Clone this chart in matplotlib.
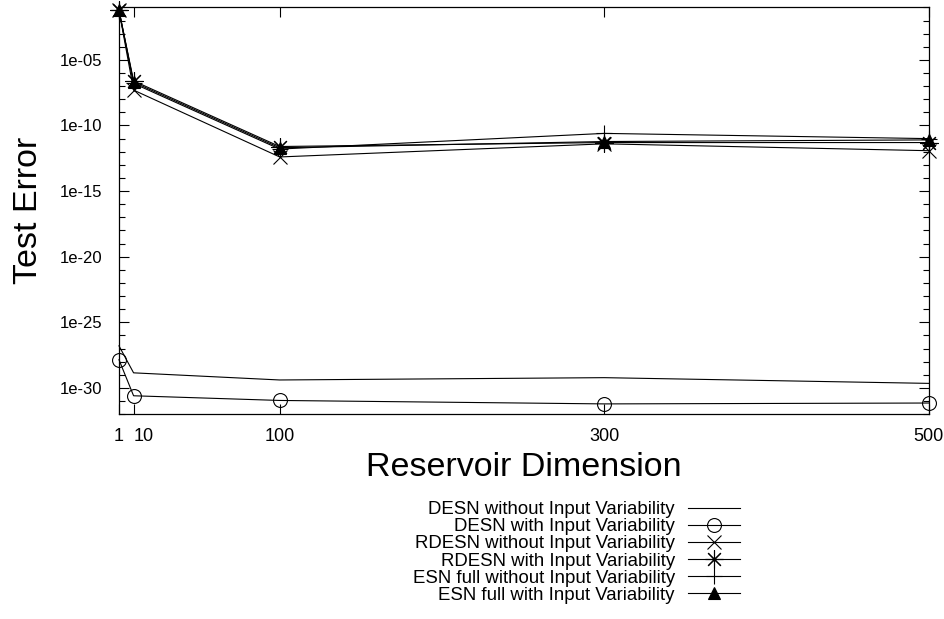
import matplotlib
matplotlib.use("Agg")
import matplotlib.pyplot as plt
from matplotlib.ticker import FixedLocator, LogLocator, FuncFormatter, NullFormatter

plt.rcParams['font.family'] = ['Liberation Sans', 'DejaVu Sans']

# reservoir sizes on the x axis
dims = [1, 10, 100, 300, 500]

# test errors
desn_no_var = [1.6e-27, 1.4e-29, 4.0e-30, 6.0e-30, 2.2e-30]
desn_var = [1.4e-28, 2.5e-31, 1.1e-31, 6.0e-32, 7.0e-32]
rdesn_no_var = [6e-02, 5e-08, 4e-13, 4e-12, 1.2e-12]
rdesn_var = [6e-02, 2.5e-07, 2.5e-12, 5e-12, 5e-12]
esn_no_var = [6e-02, 1.6e-07, 1.6e-12, 2.5e-11, 1e-11]
esn_var = [6e-02, 2e-07, 2e-12, 6e-12, 8e-12]

labels = ["DESN without Input Variability", "DESN with Input Variability",
          "RDESN without Input Variability", "RDESN with Input Variability",
          "ESN full without Input Variability", "ESN full with Input Variability"]

yticks = [1e-30, 1e-25, 1e-20, 1e-15, 1e-10, 1e-05]

fig = plt.figure(figsize=(9.45, 6.19), dpi=100)
ax = fig.add_axes([0.1259, 0.331, 0.857, 0.657])

lw = 0.8
ms = 10
kw = dict(color='k', lw=lw, clip_on=False)
ax.plot(dims, desn_no_var, label=labels[0], **kw)
ax.plot(dims, desn_var, marker='o', ms=ms, mfc='none', mew=lw, label=labels[1], **kw)
ax.plot(dims, rdesn_no_var, marker='x', ms=ms, mew=lw, label=labels[2], **kw)
ax.plot(dims, rdesn_var, marker=(8, 2, 0), ms=ms + 3, mew=lw, label=labels[3], **kw)
ax.plot(dims, esn_no_var, marker='+', ms=ms + 2, mew=lw, label=labels[4], **kw)
ax.plot(dims, esn_var, marker='^', ms=8, mfc='k', mew=lw, label=labels[5], **kw)

ax.set_yscale('log')
ax.set_xlim(1, 500)
ax.set_ylim(1e-32, 1e-1)
ax.set_xticks(dims)
ax.set_xticklabels([str(d) for d in dims])
ax.get_xticklabels()[1].set_horizontalalignment('left')
ax.yaxis.set_major_locator(FixedLocator(yticks))
ax.yaxis.set_major_formatter(FuncFormatter(lambda v, p: f"{v:.0e}"))
ax.yaxis.set_minor_locator(LogLocator(base=10, subs=(1.0,), numticks=100))
ax.yaxis.set_minor_formatter(NullFormatter())

ax.tick_params(which='both', direction='in', top=True, right=True, width=0.8)
ax.tick_params(which='major', length=7)
ax.tick_params(axis='y', which='major', pad=12, labelsize=12)
ax.tick_params(axis='x', which='major', pad=10, labelsize=13)
ax.tick_params(which='minor', length=4)
for s in ax.spines.values():
    s.set_linewidth(0.9)

ax.set_xlabel("Reservoir Dimension", fontsize=24.5, labelpad=5)
ax.set_ylabel("Test Error", fontsize=24.5, labelpad=11)

ax.legend(loc='upper right', bbox_to_anchor=(0.783, 0.19), bbox_transform=fig.transFigure,
          frameon=False, markerfirst=False, fontsize=13.4, handlelength=2.8,
          handletextpad=0.7, labelspacing=0.0, borderpad=0, borderaxespad=0)

fig.savefig("out.png", dpi=100)
